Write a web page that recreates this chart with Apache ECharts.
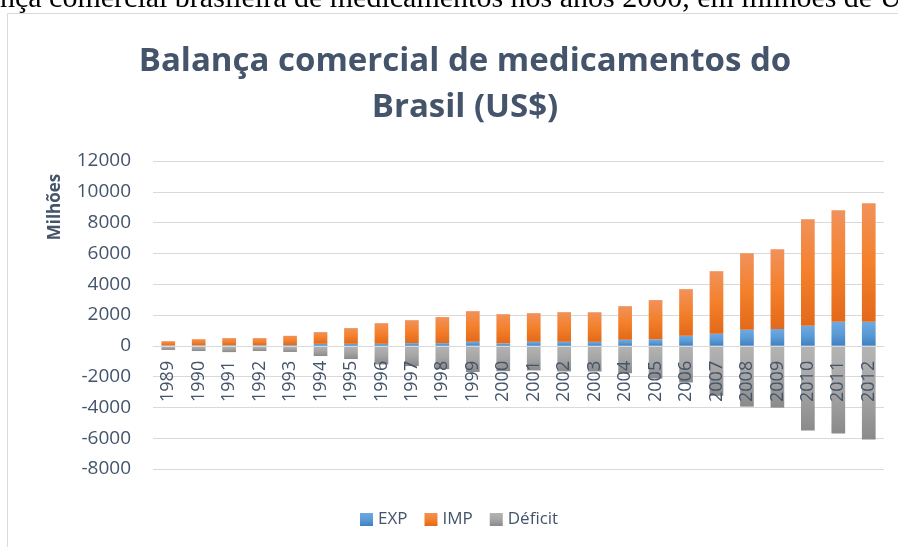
<!DOCTYPE html>
<html lang="pt">
<head>
    <meta charset="utf-8" />
    <title>Balança comercial de medicamentos do Brasil</title>
    <style>
        html, body { margin: 0; padding: 0; background: #fff; }
        #chart { width: 898px; height: 547px; }
    </style>
</head>
<body>
<div id="chart"></div>
<script src="https://cdn.jsdelivr.net/npm/echarts@6/dist/echarts.min.js"></script>
<script>
    // anos (eixo x)
    var anos = ['1989','1990','1991','1992','1993','1994','1995','1996','1997','1998','1999','2000',
                '2001','2002','2003','2004','2005','2006','2007','2008','2009','2010','2011','2012'];
    // exportações, importações e déficit, em milhões de US$
    var exp = [20, 30, 40, 40, 50, 130, 130, 130, 175, 175, 260, 155,
               260, 260, 255, 390, 420, 650, 780, 1045, 1090, 1300, 1560, 1560];
    var imp = [280, 400, 460, 460, 600, 760, 1020, 1340, 1490, 1690, 1990, 1900,
               1860, 1925, 1925, 2185, 2550, 3030, 4065, 4970, 5185, 6915, 7240, 7690];
    var deficit = [-270, -340, -410, -340, -400, -665, -860, -1210, -1315, -1515, -1700, -1650,
                   -1600, -1665, -1670, -1780, -2130, -2380, -3250, -3950, -4015, -5505, -5700, -6085];

    var corTexto = '#44546A';
    var fonte = '"Open Sans", "Noto Sans", sans-serif';

    // grade do gráfico
    var gTop = 161, gBottom = 78, yMin = -8000, yMax = 12000;
    var gAltura = 547 - gTop - gBottom;
    // deslocamento do eixo x até o zero (o rótulo acompanha a linha do zero, como no Excel)
    var deslocZero = -gAltura * (0 - yMin) / (yMax - yMin);

    // degradê vertical, claro em cima e escuro embaixo (como no Excel)
    function degrade(cores) {
        return {
            type: 'linear', x: 0, y: 0, x2: 0, y2: 1,
            colorStops: cores.map(function (c, i) {
                return { offset: i / (cores.length - 1), color: c };
            })
        };
    }

    var chart = echarts.init(document.getElementById('chart'));

    var option = {
        backgroundColor: '#fff',
        animation: false,
        title: {
            text: 'Balança comercial de medicamentos do\nBrasil (US$)',
            left: 460,
            top: 34,
            textAlign: 'center',
            textStyle: {
                color: corTexto,
                fontFamily: fonte,
                fontWeight: 'bold',
                fontSize: 33,
                lineHeight: 46
            }
        },
        legend: {
            left: 355,
            top: 506,
            itemWidth: 13,
            itemHeight: 13,
            itemGap: 17,
            icon: 'rect',
            textStyle: { color: corTexto, fontFamily: fonte, fontSize: 17 },
            data: ['EXP', 'IMP', 'Déficit']
        },
        grid: { left: 153, right: 14, top: gTop, bottom: gBottom },
        xAxis: {
            type: 'category',
            data: anos,
            z: 10,
            offset: deslocZero,
            axisTick: { show: false },
            axisLine: { onZero: false, lineStyle: { color: '#D9D9D9', width: 1 } },
            axisLabel: {
                rotate: 90,
                margin: 15,
                color: corTexto,
                fontFamily: fonte,
                fontSize: 18
            }
        },
        yAxis: {
            type: 'value',
            min: yMin,
            max: yMax,
            interval: 2000,
            axisLine: { show: false },
            axisTick: { show: false },
            splitLine: { lineStyle: { color: '#D9D9D9', width: 1 } },
            axisLabel: {
                margin: 22, color: corTexto, fontFamily: fonte, fontSize: 19,
                formatter: function (v) { return String(v); }
            }
        },
        graphic: [
            // legenda do documento, cortada no topo
            {
                type: 'text', x: -55, y: -0.5,
                style: {
                    text: 'Balança comercial brasileira de medicamentos nos anos 2000, em milhões de US$',
                    fill: '#000', verticalAlign: 'middle',
                    font: '30px "Liberation Serif", "Times New Roman", serif'
                }
            },
            // moldura da área do gráfico
            {
                type: 'rect', shape: { x: 7.5, y: 13.5, width: 1000, height: 600 },
                style: { fill: null, stroke: '#D9D9D9', lineWidth: 1 }, silent: true, z: -1
            },
            {
                type: 'text', x: 55, y: 207, rotation: Math.PI / 2,
                style: {
                    text: 'Milhões', fill: corTexto, align: 'center', verticalAlign: 'middle',
                    font: 'bold 17px "Open Sans", "Noto Sans", sans-serif'
                }
            }
        ],
        series: [
            {
                name: 'EXP', type: 'bar', stack: 'total', barWidth: '45%', data: exp,
                itemStyle: { color: degrade(['#70a9e2', '#5b9bd5', '#3f80c4']) }
            },
            {
                name: 'IMP', type: 'bar', stack: 'total', barWidth: '45%', data: imp,
                itemStyle: { color: degrade(['#f1925b', '#f4802b', '#e2691a']) }
            },
            {
                name: 'Déficit', type: 'bar', stack: 'total', barWidth: '45%', data: deficit,
                itemStyle: { color: degrade(['#b4b4b4', '#a5a5a5', '#8a8a8a']) }
            }
        ]
    };

    chart.setOption(option);
</script>
</body>
</html>
